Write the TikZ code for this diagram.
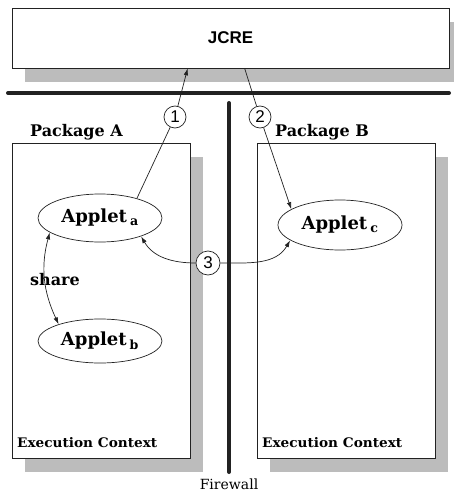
\documentclass[tikz,border=0pt]{standalone}
\usepackage{fontspec}
\setmainfont{DejaVu Serif}
\newfontfamily\jcrefont{Liberation Sans}
\usetikzlibrary{positioning,shadows,shapes.geometric,arrows.meta,calc}
\definecolor{halftone}{HTML}{BCBCBC}
\definecolor{ink}{HTML}{222222}
\newcommand{\ctxtext}[1]{\resizebox{140pt}{10pt}{#1}}

\begin{document}
\begin{tikzpicture}[x=1pt,y=1pt,
  box/.style={draw=ink, line width=0.7pt, fill=white, inner sep=0pt,
      drop shadow={shadow xshift=13pt,shadow yshift=-14pt,fill=halftone,opacity=1}},
  applet/.style={ellipse, draw=ink, line width=0.7pt, fill=white, minimum width=124pt,
      minimum height=48pt, inner sep=0pt, font=\bfseries\fontsize{18}{20}\selectfont},
  num/.style={circle, draw=ink, line width=0.7pt, fill=white, minimum size=22pt,
      inner sep=0pt, font=\jcrefont\fontsize{17}{19}\selectfont},
  lbl/.style={inner sep=0pt, anchor=base west, font=\bfseries\fontsize{16}{18}\selectfont},
  ctx/.style={inner sep=0pt, anchor=base west, font=\bfseries\fontsize{13.5}{15}\selectfont},
  arr/.style={-{Latex[length=7pt,width=4.5pt]}, line width=0.7pt, ink},
  link/.style={line width=0.7pt, ink},
  wall/.style={line width=4pt, line cap=round, ink},
]
\useasboundingbox (0,0) rectangle (453,-495);

% runtime environment and the two packages
\node[box, minimum width=437pt, minimum height=60pt, font=\jcrefont\bfseries\fontsize{17}{19}\selectfont] (jcre) at (230.5,-38) {JCRE};
\node[box, minimum width=178pt, minimum height=315pt] (pkga) at (101,-300.5) {};
\node[box, minimum width=178pt, minimum height=315pt] (pkgb) at (346,-300.5) {};
\node[lbl] (pkgalbl) at (30,-136) {Package A};
\node[lbl] (pkgblbl) at (275,-136) {Package B};
\node[ctx] (ctxa) at (17,-447) {\ctxtext{Execution Context}};
\node[ctx] (ctxb) at (262,-447) {\ctxtext{Execution Context}};

% firewall
\coordinate (railw) at (8,-93);
\coordinate (raile) at (449,-93);
\coordinate (walltop) at (229,-103);
\coordinate (wallfoot) at (229,-472);
\draw[wall] (railw) -- (raile);
\draw[wall] (walltop) -- (wallfoot);
\node[font=\fontsize{14}{16}\selectfont] (fw) at (229,-484) {Firewall};

% applets
\node[applet] (aa) at (100,-218) {Applet\,\textsubscript{a}};
\node[applet, minimum height=44pt] (ab) at (100,-341) {Applet\,\textsubscript{b}};
\node[applet, minimum height=50pt] (ac) at (340,-225) {Applet\,\textsubscript{c}};
\node[lbl, anchor=west] (share) at (30,-280) {share};

\node[num] (c1) at (175,-117) {1};
\node[num] (c2) at (260,-117) {2};
\node[num, minimum size=24pt] (c3) at (208,-263) {3};

\coordinate (jin) at ($(jcre.south west)+(176,0)$);
\coordinate (jout) at ($(jcre.south west)+(233,0)$);

\draw[link] (aa.28) -- (c1);
\draw[arr] (c1) -- (jin);
\draw[link] (jout) -- (c2);
\draw[arr] (c2) -- (ac.162);
\draw[arr] (c3) to[out=180,in=-60] (aa.-24);
\draw[arr] (c3) to[out=0,in=-120] (ac.-163);
\draw[arr, {Latex[length=7pt,width=4.5pt]}-{Latex[length=7pt,width=4.5pt]}] (aa.196) to[out=-105,in=115] (ab.158);
\end{tikzpicture}
\end{document}
